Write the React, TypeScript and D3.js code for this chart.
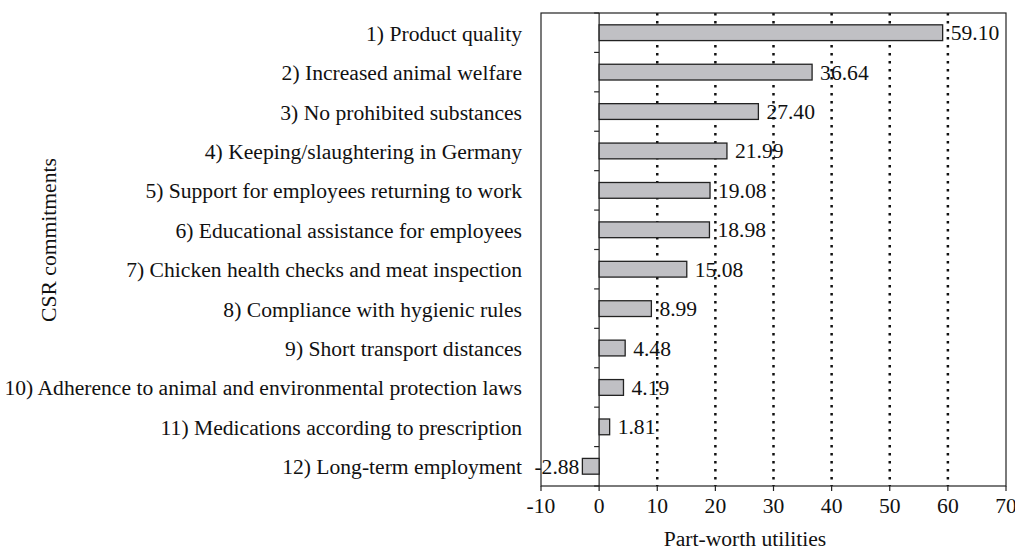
import React from "react";
import * as d3 from "d3";

const categories = [
  "1) Product quality",
  "2) Increased animal welfare ",
  "3) No prohibited substances",
  "4) Keeping/slaughtering in Germany",
  "5) Support for employees returning to work",
  "6) Educational assistance for employees",
  "7) Chicken health checks and meat inspection",
  "8) Compliance with hygienic rules",
  "9) Short transport distances",
  "10) Adherence to animal and environmental protection laws",
  "11) Medications according to prescription",
  "12) Long-term employment",
];
const values = [59.1, 36.64, 27.4, 21.99, 19.08, 18.98, 15.08, 8.99, 4.48, 4.19, 1.81, -2.88];
const xTicks = [-10, 0, 10, 20, 30, 40, 50, 60, 70];
const gridTicks = [10, 20, 30, 40, 50, 60];

export default function App() {
  const W = 1015, H = 550;
  const left = 541, right = 1006, top = 13, bottom = 486;
  const x = d3.scaleLinear().domain([-10, 70]).range([left, right]);
  const y = d3.scaleBand<string>().domain(categories).range([top, bottom]).paddingInner(0.6).paddingOuter(0.3);
  const yb = d3.scaleBand<string>().domain(categories).range([top, bottom]);
  const font = "'Liberation Serif', 'Times New Roman', serif";
  const fs = 21.6;
  return (
    <svg width={W} height={H} style={{ position: "absolute", left: 0, top: 0 }} fontFamily={font}>
      <rect x={0} y={0} width={W} height={H} fill="#fff" />
      {gridTicks.map((t) => (
        <line key={t} x1={x(t)} x2={x(t)} y1={top} y2={bottom} stroke="#111" strokeWidth={2.5} strokeDasharray="2.5,5.5" />
      ))}
      <rect x={left} y={top} width={right - left} height={bottom - top} fill="none" stroke="#222" strokeWidth={1.2} />
      <line x1={x(0)} x2={x(0)} y1={top} y2={bottom} stroke="#222" strokeWidth={1.2} />
      {d3.range(categories.length + 1).map((i) => {
        const yy = top + i * yb.bandwidth();
        return <line key={i} x1={x(0) - 5} x2={x(0)} y1={yy} y2={yy} stroke="#222" strokeWidth={1.2} />;
      })}
      {xTicks.map((t) => (
        <g key={t}>
          <line x1={x(t)} x2={x(t)} y1={bottom} y2={bottom + 5} stroke="#222" strokeWidth={1.2} />
          <text x={x(t)} y={bottom + 27} textAnchor="middle" fontSize={fs} fill="#111">{t}</text>
        </g>
      ))}
      {categories.map((c, i) => {
        const v = values[i];
        const x0 = x(Math.min(0, v));
        const x1 = x(Math.max(0, v));
        const by = y(c)!;
        const cy = yb(c)! + yb.bandwidth() / 2;
        return (
          <g key={c}>
            <rect x={x0} y={by} width={x1 - x0} height={y.bandwidth()} fill="#c0c0c4" stroke="#222" strokeWidth={1.3} />
            <text
              x={v >= 0 ? x1 + 8 : x0 - 3}
              y={cy + 7.5}
              textAnchor={v >= 0 ? "start" : "end"}
              fontSize={fs}
              fill="#111"
            >
              {v.toFixed(2)}
            </text>
            <text x={522} y={cy + 8} textAnchor="end" fontSize={fs} fill="#111">{c}</text>
          </g>
        );
      })}
      <text x={745} y={546} textAnchor="middle" fontSize={fs} fill="#111">Part-worth utilities</text>
      <text transform={`translate(56,${240}) rotate(-90)`} textAnchor="middle" fontSize={fs} fill="#111">CSR commitments</text>
    </svg>
  );
}
